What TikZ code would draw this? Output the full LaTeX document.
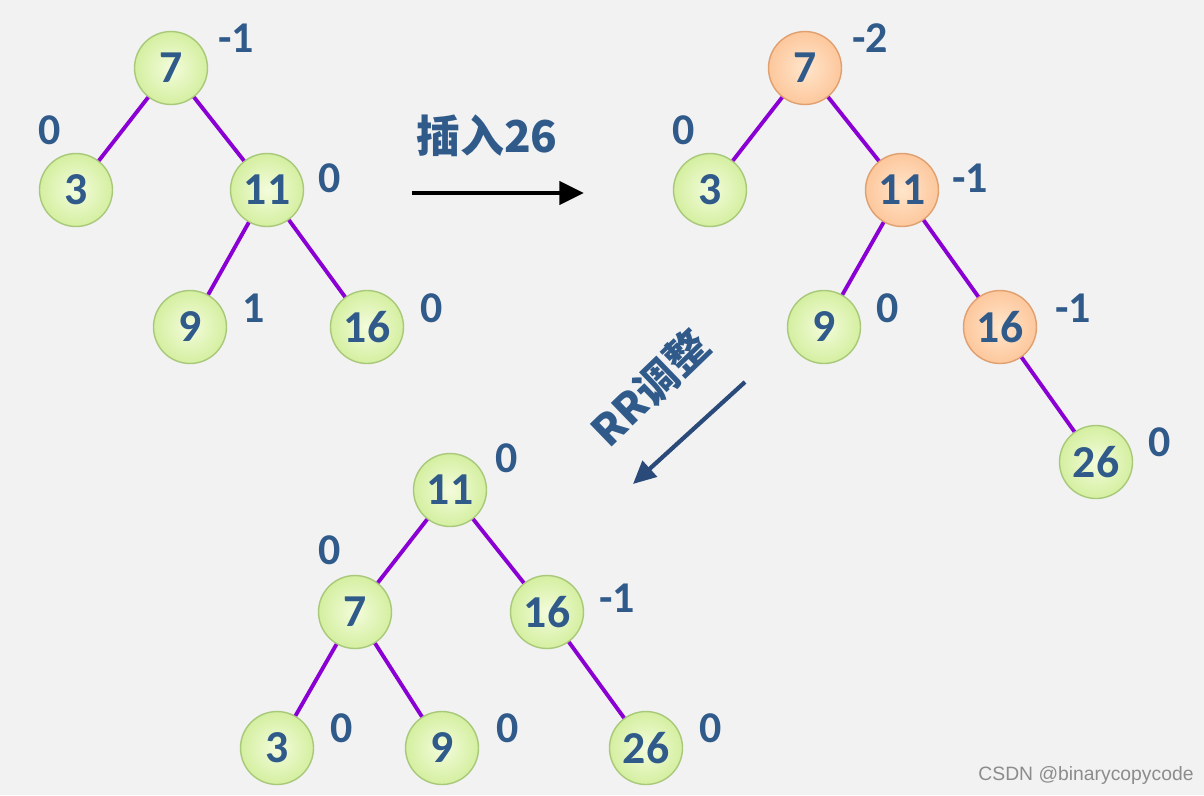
\documentclass[tikz,border=0pt]{standalone}
\usepackage{fontspec}
\setmainfont{Carlito}
\newfontfamily\cjkfont{Noto Sans CJK SC}
\newfontfamily\markfont{Liberation Sans}
\usepackage{tikz}
\usetikzlibrary{arrows.meta}
\definecolor{bgcol}{HTML}{F2F2F2}
\definecolor{numcol}{HTML}{2F5A8A}
\definecolor{edgecol}{HTML}{8A00D4}
\definecolor{greenin}{HTML}{F4FCDC}
\definecolor{greenout}{HTML}{D4EFA0}
\definecolor{greenrim}{HTML}{A9C97A}
\definecolor{orangein}{HTML}{FFE6CC}
\definecolor{orangeout}{HTML}{FDC79C}
\definecolor{orangerim}{HTML}{E0A070}
\definecolor{arrowblue}{HTML}{2A4A7A}
\tikzset{
avl/.style={circle, minimum size=1.46cm, inner sep=0pt, draw=greenrim, thick, shading=radial, inner color=greenin, outer color=greenout, text=numcol, font=\fontsize{26}{26}\selectfont\bfseries}, % plain tree node
hot/.style={avl, draw=orangerim, inner color=orangein, outer color=orangeout}, % node that lost balance
bf/.style={text=numcol, font=\fontsize{25}{25}\selectfont\bfseries}, % balance factor
link/.style={draw=edgecol, line width=2.2pt}, % tree edge
}

\begin{document}
\begin{tikzpicture}[x=0.02cm, y=-0.02cm]
\fill[bgcol] (0,0) rectangle (1204,795);
\useasboundingbox (0,0) rectangle (1204,795);

% tree before insertion
\node[avl] (a7) at (171,68) {7};
\node[avl] (a3) at (76,190) {3};
\node[avl] (a11) at (267,190) {11};
\node[avl] (a9) at (190,327) {9};
\node[avl] (a16) at (367,327) {16};
\draw[link] (a7) -- (a3);
\draw[link] (a7) -- (a11);
\draw[link] (a11) -- (a9);
\draw[link] (a11) -- (a16);
\node[bf] (fa7) at (236,38) {-1};
\node[bf] (fa3) at (50,130) {0};
\node[bf] (fa11) at (330,178) {0};
\node[bf] (fa9) at (254,308) {1};
\node[bf] (fa16) at (432,308) {0};

% insert step
\node[text=numcol, font=\cjkfont\fontsize{25}{25}\selectfont\bfseries] (ins) at (487,136) {插入26};
\coordinate (insa) at (412,193);
\coordinate (insb) at (584,193);
\draw[line width=2.6pt, -{Triangle[length=14pt,width=13pt]}] (insa) -- (insb);

% tree after insertion
\node[hot] (b7) at (805,68) {7};
\node[avl] (b3) at (710,190) {3};
\node[hot] (b11) at (902,190) {11};
\node[avl] (b9) at (824,327) {9};
\node[hot] (b16) at (1000,327) {16};
\node[avl] (b26) at (1096,462) {26};
\draw[link] (b7) -- (b3);
\draw[link] (b7) -- (b11);
\draw[link] (b11) -- (b9);
\draw[link] (b11) -- (b16);
\draw[link] (b16) -- (b26);
\node[bf] (fb7) at (870,38) {-2};
\node[bf] (fb3) at (684,130) {0};
\node[bf] (fb11) at (970,178) {-1};
\node[bf] (fb9) at (888,308) {0};
\node[bf] (fb16) at (1073,308) {-1};
\node[bf] (fb26) at (1160,442) {0};

% rotation step
\node[text=numcol, rotate=44, font=\cjkfont\fontsize{24}{24}\selectfont\bfseries] (rr) at (650,388) {RR调整};
\coordinate (rra) at (745,382);
\coordinate (rrb) at (633,484);
\draw[arrowblue, line width=2.4pt, -{Triangle[length=13pt,width=12pt]}] (rra) -- (rrb);

% tree after RR
\node[avl] (c11) at (450,490) {11};
\node[avl] (c7) at (355,612) {7};
\node[avl] (c16) at (547,612) {16};
\node[avl] (c3) at (277,748) {3};
\node[avl] (c9) at (442,748) {9};
\node[avl] (c26) at (646,748) {26};
\draw[link] (c11) -- (c7);
\draw[link] (c11) -- (c16);
\draw[link] (c7) -- (c3);
\draw[link] (c7) -- (c9);
\draw[link] (c16) -- (c26);
\node[bf] (fc11) at (507,458) {0};
\node[bf] (fc7) at (330,550) {0};
\node[bf] (fc16) at (617,598) {-1};
\node[bf] (fc3) at (342,728) {0};
\node[bf] (fc9) at (508,728) {0};
\node[bf] (fc26) at (711,728) {0};

\node[text=black!45, font=\markfont\fontsize{11}{11}\selectfont] (mark) at (1086,775) {CSDN @binarycopycode};
\end{tikzpicture}
\end{document}
